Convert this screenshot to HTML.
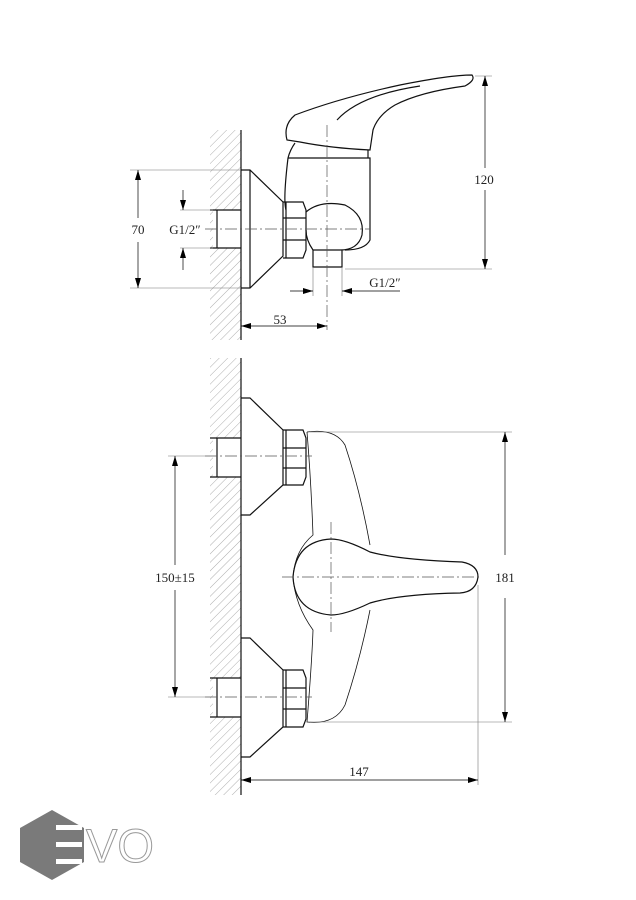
<!DOCTYPE html>
<html><head><meta charset="utf-8"><style>
html,body{margin:0;padding:0;background:#fff}
svg{display:block}
text{font-family:"Liberation Serif",serif;font-size:13px;fill:#222}
</style></head><body>
<svg width="636" height="900" viewBox="0 0 636 900" xmlns="http://www.w3.org/2000/svg">
<defs>
<pattern id="h" width="6" height="6" patternUnits="userSpaceOnUse" patternTransform="rotate(45)">
<line x1="0" y1="0" x2="0" y2="6" stroke="#999" stroke-width="0.8"/>
</pattern>
<marker id="a" viewBox="0 0 10 6" refX="10" refY="3" markerWidth="10" markerHeight="6" orient="auto-start-reverse" markerUnits="userSpaceOnUse">
<path d="M0,0 L10,3 L0,6 z" fill="#000"/></marker>
</defs>
<g fill="none" stroke="#111" stroke-width="1.2">
<!-- TOP VIEW -->
<rect x="210" y="130" width="31" height="210" fill="url(#h)" stroke="none"/>
<rect x="213" y="210" width="28" height="38" fill="#fff" stroke="none"/>
<line x1="241" y1="130" x2="241" y2="340"/>
<path d="M241,170 H250 L283,202 V256 L250,288 H241"/>
<line x1="250" y1="170" x2="250" y2="288"/>
<path d="M210,210 H241 M210,248 H241 M217,210 V248"/>
<path d="M283,202 H303 L306,210 V250 L303,258 H283 M283,218 H306 M283,240 H306 M286,202 V258"/>
<path d="M306,212 Q320,200 345,205 Q365,215 362,235 Q358,250 340,250 H313 Q306,240 306,230"/>
<path d="M313,250 V267 H342 V250"/>
<path d="M288,158 H370 V240 Q365,250 345,250"/>
<path d="M288,158 Q283,200 286,210"/>
<path d="M287,140 Q283,125 295,115 Q340,98 400,85 Q450,75 472,75 Q476,80 465,86 Q420,92 395,105 Q378,115 373,130 L370,150 Q330,148 300,142 Z"/>
<path d="M295,143 Q290,150 288,158 M368,150 V158"/>
<path d="M337,120 Q360,95 420,86"/>
<g stroke="#555" stroke-width="0.7" stroke-dasharray="12,3,2,3">
<line x1="205" y1="229" x2="370" y2="229"/>
<line x1="327" y1="125" x2="327" y2="330"/>
</g>
<g stroke="#777" stroke-width="0.6">
<line x1="130" y1="170" x2="241" y2="170"/><line x1="130" y1="288" x2="241" y2="288"/>
<line x1="180" y1="210" x2="213" y2="210"/><line x1="180" y1="248" x2="213" y2="248"/>
<line x1="475" y1="76" x2="492" y2="76"/><line x1="345" y1="269" x2="492" y2="269"/>
<line x1="313" y1="268" x2="313" y2="296"/><line x1="342" y1="268" x2="342" y2="296"/>
</g>
<g stroke="#000" stroke-width="0.7">
<line x1="138" y1="218" x2="138" y2="170" marker-end="url(#a)"/><line x1="138" y1="242" x2="138" y2="288" marker-end="url(#a)"/>
<line x1="183" y1="190" x2="183" y2="210" marker-end="url(#a)"/><line x1="183" y1="270" x2="183" y2="248" marker-end="url(#a)"/>
<line x1="485" y1="168" x2="485" y2="76" marker-end="url(#a)"/><line x1="485" y1="190" x2="485" y2="269" marker-end="url(#a)"/>
<line x1="290" y1="291" x2="313" y2="291" marker-end="url(#a)"/><line x1="400" y1="291" x2="342" y2="291" marker-end="url(#a)"/>
<line x1="241" y1="326" x2="327" y2="326" marker-start="url(#a)" marker-end="url(#a)"/>
</g>
<!-- BOTTOM VIEW -->
<rect x="210" y="358" width="31" height="437" fill="url(#h)" stroke="none"/>
<rect x="213" y="438" width="28" height="39" fill="#fff" stroke="none"/>
<rect x="213" y="678" width="28" height="39" fill="#fff" stroke="none"/>
<line x1="241" y1="358" x2="241" y2="795"/>
<path d="M241,398 H250 L283,430 V485 L250,515 H241"/>
<path d="M241,638 H250 L283,670 V727 L250,757 H241"/>
<path d="M210,438 H241 M210,477 H241 M217,438 V477"/>
<path d="M210,678 H241 M210,717 H241 M217,678 V717"/>
<path d="M283,430 H303 L306,438 V477 L303,485 H283 M283,448 H306 M283,468 H306 M286,430 V485"/>
<path d="M283,670 H303 L306,678 V719 L303,727 H283 M283,688 H306 M283,709 H306 M286,670 V727"/>
<path stroke-width="0.8" d="M307,432 Q335,428 345,445 Q360,490 370,545 M370,610 Q360,660 345,705 Q335,725 307,722 Q312,660 313,630 Q295,605 293,577 Q295,550 313,535 Q311,480 307,432"/>
<path d="M331,539 Q345,539 370,552 Q400,560 462,562 Q478,565 478,577 Q476,592 460,593 Q400,594 370,603 Q345,615 331,615 Q295,612 293,577 Q296,541 331,539 Z"/>
<g stroke="#555" stroke-width="0.7" stroke-dasharray="12,3,2,3">
<line x1="205" y1="456" x2="312" y2="456"/>
<line x1="205" y1="697" x2="312" y2="697"/>
<line x1="282" y1="577" x2="480" y2="577"/>
<line x1="331" y1="522" x2="331" y2="632"/>
</g>
<g stroke="#777" stroke-width="0.6">
<line x1="310" y1="432" x2="512" y2="432"/><line x1="310" y1="722" x2="512" y2="722"/>
<line x1="168" y1="456" x2="205" y2="456"/><line x1="168" y1="697" x2="205" y2="697"/>
<line x1="478" y1="585" x2="478" y2="785"/>
</g>
<g stroke="#000" stroke-width="0.7">
<line x1="175" y1="565" x2="175" y2="456" marker-end="url(#a)"/><line x1="175" y1="590" x2="175" y2="697" marker-end="url(#a)"/>
<line x1="505" y1="555" x2="505" y2="432" marker-end="url(#a)"/><line x1="505" y1="598" x2="505" y2="722" marker-end="url(#a)"/>
<line x1="241" y1="780" x2="478" y2="780" marker-start="url(#a)" marker-end="url(#a)"/>
</g>
</g>
<text x="138" y="234" text-anchor="middle">70</text>
<text x="185" y="234" text-anchor="middle">G1/2″</text>
<text x="484" y="184" text-anchor="middle">120</text>
<text x="385" y="287" text-anchor="middle">G1/2″</text>
<text x="280" y="324" text-anchor="middle">53</text>
<text x="175" y="582" text-anchor="middle">150±15</text>
<text x="505" y="582" text-anchor="middle">181</text>
<text x="359" y="776" text-anchor="middle">147</text>
<!-- logo -->
<polygon points="52,810 84,828 84,862 52,880 20,862 20,828" fill="#7a7a7a"/>
<g fill="#fff" stroke="none">
<rect x="56" y="825" width="26" height="5"/><rect x="56" y="842" width="26" height="5"/><rect x="56" y="859" width="26" height="5"/>
</g>
<text x="86" y="862" style="font-family:'Liberation Sans',sans-serif;font-size:47px;fill:#fff;stroke:#999;stroke-width:1">VO</text>
</svg>
</body></html>
